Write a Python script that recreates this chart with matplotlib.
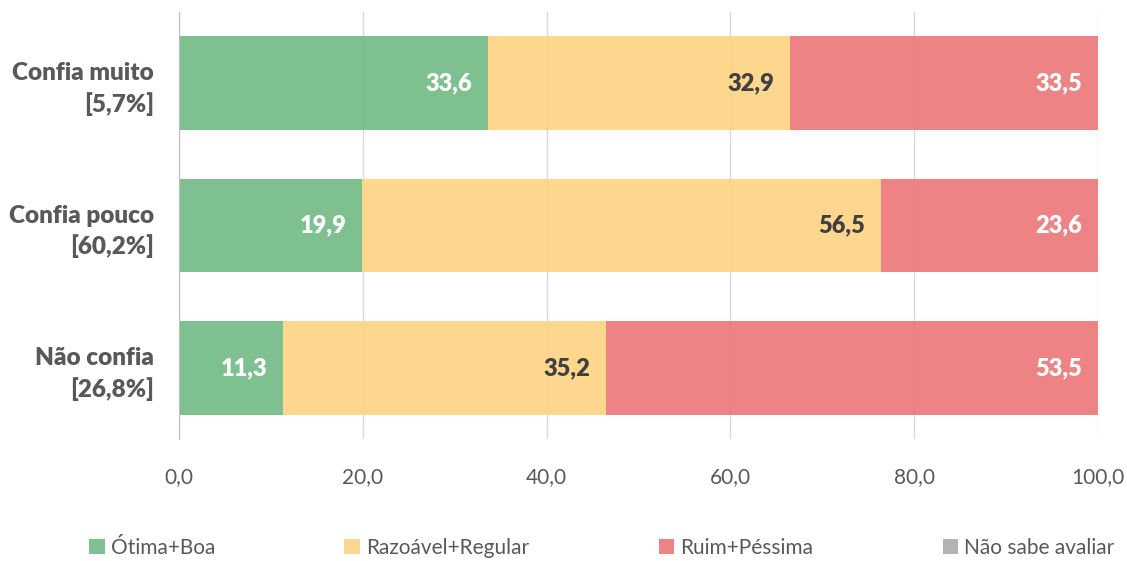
#!/usr/bin/env python
# Stacked horizontal bars: avaliação por grau de confiança

import numpy as np
import matplotlib.pyplot as plt

plt.rcParams['font.family'] = ['Lato', 'DejaVu Sans']

# Data
categorias = ['Confia muito\n[5,7%]', 'Confia pouco\n[60,2%]', 'Não confia\n[26,8%]']
series = ['Ótima+Boa', 'Razoável+Regular', 'Ruim+Péssima', 'Não sabe avaliar']
otima_boa = [33.6, 19.9, 11.3]
razoavel_regular = [32.9, 56.5, 35.2]
ruim_pessima = [33.5, 23.6, 53.5]
nao_sabe = [0.0, 0.0, 0.0]
xticks = [0, 20, 40, 60, 80, 100]

valores = [otima_boa, razoavel_regular, ruim_pessima, nao_sabe]
cores = ['#71BA84', '#FED383', '#EC7677', '#ABABAB']
cores_texto = ['white', '#404040', 'white', 'white']
cinza = '#595959'

fig = plt.figure(figsize=(11.27, 5.61), dpi=100)
ax = fig.add_axes([0.1588, 0.2175, 0.8155, 0.7611])

y = np.arange(len(categorias))
left = np.zeros(len(categorias))
for nome, vals, cor, ct in zip(series, valores, cores, cores_texto):
    vals = np.array(vals)
    ax.barh(y, vals, left=left, height=0.66, color=cor, alpha=0.9,
            label=nome, zorder=2, linewidth=0)
    for yi, l, v in zip(y, left, vals):
        if v > 0:
            ax.text(l + v - 1.7, yi, f'{v:.1f}'.replace('.', ','),
                    ha='right', va='center', color=ct, fontsize=17,
                    fontweight='heavy', zorder=3)
    left = left + vals

ax.set_ylim(2.5, -0.5)
ax.set_xlim(0, 100)
ax.set_yticks(y)
ax.set_yticklabels(categorias, fontsize=17.5, fontweight='heavy', color=cinza,
                   linespacing=1.4)
ax.set_xticks(xticks)
ax.set_xticklabels([f'{t:.1f}'.replace('.', ',') for t in xticks],
                   fontsize=15, color=cinza)
ax.tick_params(axis='y', length=0, pad=18)
ax.tick_params(axis='x', length=0, pad=20)
ax.grid(axis='x', color='#D9D9D9', linewidth=1, zorder=0)
ax.set_axisbelow(True)
for s in ['top', 'right', 'bottom']:
    ax.spines[s].set_visible(False)
ax.spines['left'].set_color('#BFBFBF')
ax.spines['left'].set_zorder(4)

leg = fig.legend(loc='center', bbox_to_anchor=(0.534, 0.023), ncol=4,
                 frameon=False, fontsize=15, handlelength=0.75,
                 handleheight=0.75, handletextpad=0.3, columnspacing=6.2)
for t in leg.get_texts():
    t.set_color(cinza)

plt.savefig('out.png', dpi=100)
